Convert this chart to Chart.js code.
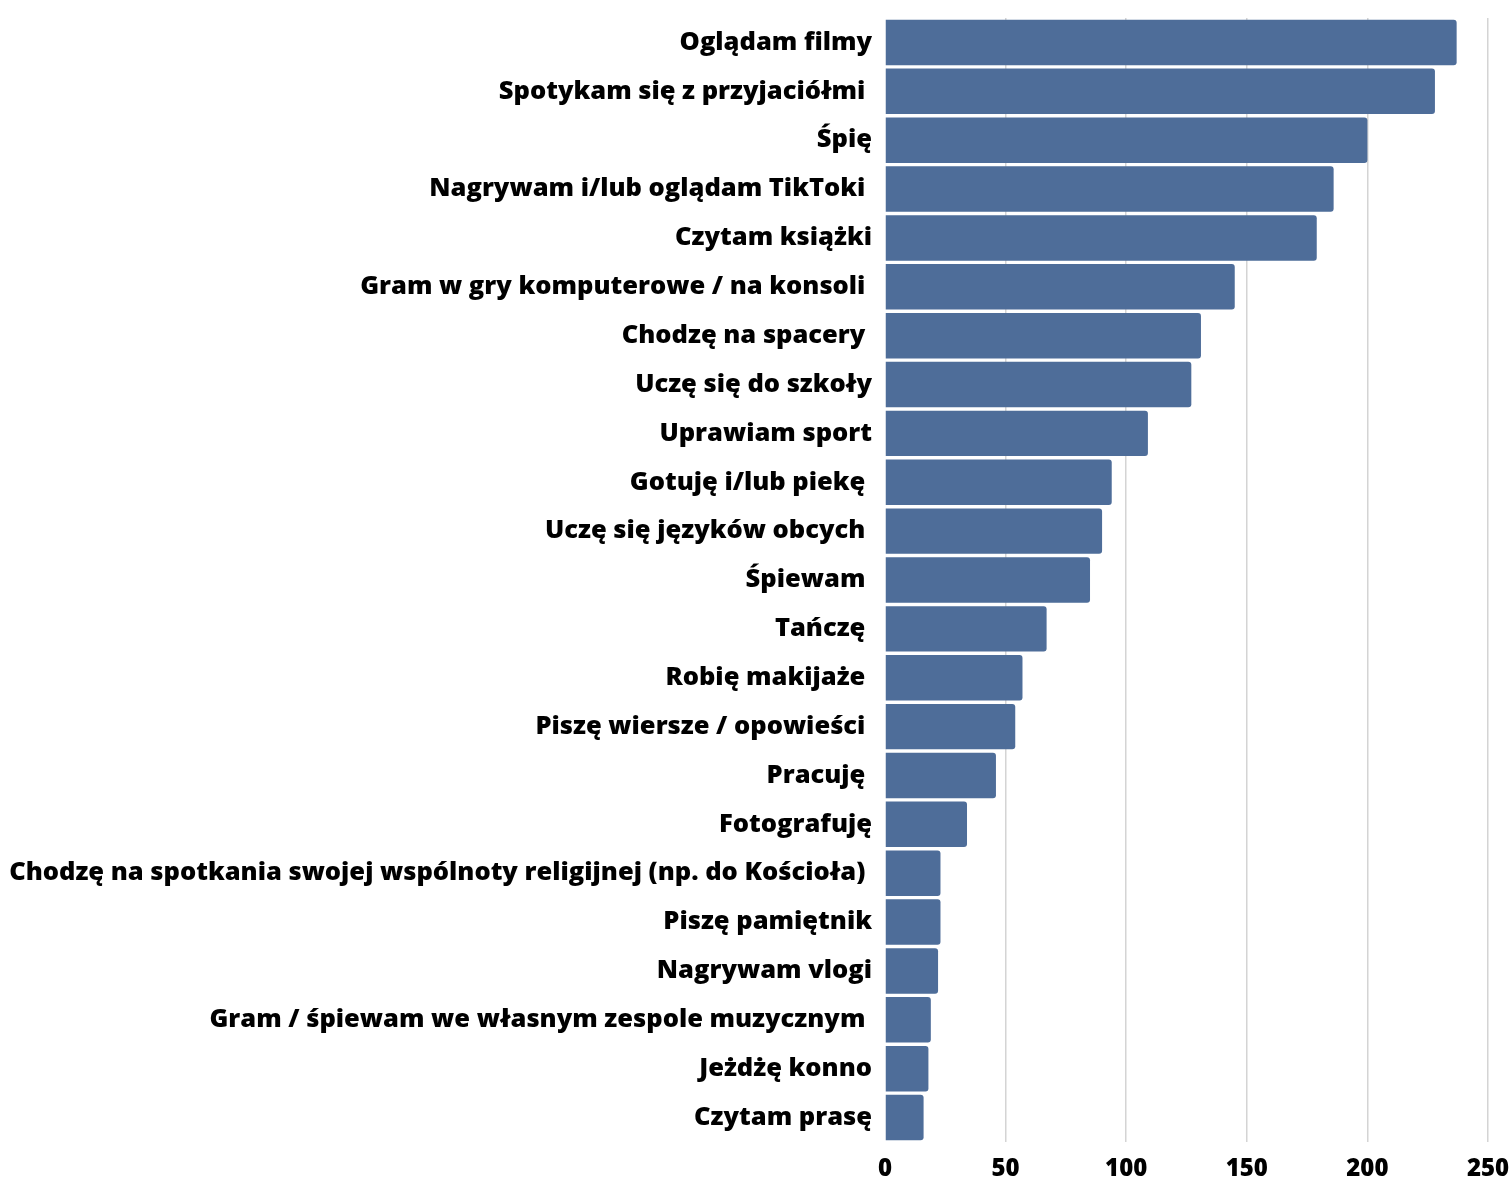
<!DOCTYPE html>
<html>
<head>
<meta charset="utf-8">
<script src="https://cdn.jsdelivr.net/npm/chart.js@4/dist/chart.umd.min.js"></script>
<style>
  html, body { margin: 0; padding: 0; background: #fff; }
  #wrap { width: 1511px; height: 1180px; position: relative; }
</style>
</head>
<body>
<div id="wrap"><canvas id="chart"></canvas></div>
<script>
const categories = [
    'Oglądam filmy',
    'Spotykam się z przyjaciółmi ',
    'Śpię',
    'Nagrywam i/lub oglądam TikToki ',
    'Czytam książki',
    'Gram w gry komputerowe / na konsoli ',
    'Chodzę na spacery ',
    'Uczę się do szkoły',
    'Uprawiam sport',
    'Gotuję i/lub piekę ',
    'Uczę się języków obcych ',
    'Śpiewam ',
    'Tańczę ',
    'Robię makijaże ',
    'Piszę wiersze / opowieści ',
    'Pracuję ',
    'Fotografuję',
    'Chodzę na spotkania swojej wspólnoty religijnej (np. do Kościoła) ',
    'Piszę pamiętnik',
    'Nagrywam vlogi',
    'Gram / śpiewam we własnym zespole muzycznym ',
    'Jeżdżę konno',
    'Czytam prasę'
];
const counts = [237, 228, 200, 186, 179, 145, 131, 127, 109, 94, 90, 85, 67, 57, 54, 46, 34, 23, 23, 22, 19, 18, 16];
const xTicks = [0, 50, 100, 150, 200, 250];

const barColor = '#4e6d99';

new Chart(document.getElementById('chart'), {
    type: 'bar',
    data: {
        labels: categories,
        datasets: [{
            data: counts,
            backgroundColor: barColor,
            borderWidth: 0,
            borderRadius: 3,
            barPercentage: 0.93,
            categoryPercentage: 1
        }]
    },
    options: {
        indexAxis: 'y',
        responsive: true,
        maintainAspectRatio: false,
        animation: false,
        layout: { padding: { top: 18, left: 0, right: 0, bottom: 0 } },
        plugins: { legend: { display: false }, tooltip: { enabled: false } },
        scales: {
            x: {
                min: 0,
                max: 250,
                afterBuildTicks: axis => { axis.ticks = xTicks.map(v => ({ value: v })); },
                afterFit: axis => {
                    axis.height = 38;
                    axis.paddingLeft = 0;
                    axis.paddingRight = 23;
                },
                grid: {
                    color: ctx => (ctx.tick && ctx.tick.value === 0) ? 'rgba(0,0,0,0)' : '#d4d4d4',
                    lineWidth: 1.5,
                    drawTicks: false
                },
                border: { display: false },
                ticks: {
                    color: '#000',
                    padding: 13,
                    font: { family: 'Open Sans', weight: 800, size: 24 }
                }
            },
            y: {
                grid: { display: false, drawTicks: false },
                border: { display: false },
                afterFit: axis => {
                    axis.width = 885;
                    axis.paddingTop = 0;
                    axis.paddingBottom = 0;
                },
                ticks: {
                    color: '#000',
                    padding: 13,
                    autoSkip: false,
                    font: { family: 'Open Sans', weight: 800, size: 25.5 }
                }
            }
        }
    }
});
</script>
</body>
</html>
